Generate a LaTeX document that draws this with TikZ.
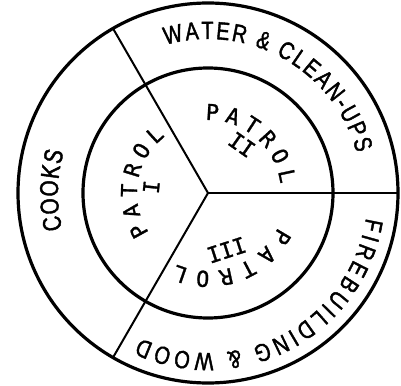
\documentclass[tikz,border=0pt]{standalone}
\usepackage{fontspec}
\newfontfamily\rimfont[FakeStretch=0.8, FakeBold=1.6]{Liberation Sans}
\newfontfamily\patfont[FakeBold=1.2]{DejaVu Sans Mono}
\usetikzlibrary{decorations.text}

\begin{document}
\begin{tikzpicture}[line join=round]
  \tikzset{
    ring/.style={draw=black, line width=3.2bp},
    spoke/.style={draw=black, line width=2bp},
    rimtext/.style={decorate, decoration={text along path, text align=fit to path}},
    numeral/.style={font=\patfont\fontsize{22}{22}\selectfont, inner sep=0pt}
  }
  \def\ro{190bp} \def\ri{125bp}
  \useasboundingbox (-208bp,-193bp) rectangle (193bp,193bp);

  % Rings
  \coordinate (c) at (0,0);
  \draw[ring] (c) circle[radius=\ro];
  \draw[ring] (c) circle[radius=\ri];

  % Spokes
  \coordinate (s1) at (0:\ro);
  \coordinate (s2) at (120:\ro);
  \coordinate (s3) at (240:\ro);
  \draw[spoke] (c) -- (s1);
  \draw[spoke] (c) -- (s2);
  \draw[spoke] (c) -- (s3);

  % Outer ring
  \path[rimtext, decoration={text={|\rimfont\fontsize{25}{25}\selectfont|WATER {\&} CLEAN-UPS}}]
    (106:154bp) arc[start angle=106, end angle=15, radius=154bp];
  \path[rimtext, decoration={text={|\rimfont\fontsize{25}{25}\selectfont|FIREBUILDING {\&} WOOD}}]
    (-9:160bp) arc[start angle=-9, end angle=-115, radius=160bp];
  \path[rimtext, decoration={text={|\rimfont\fontsize{26}{26}\selectfont|COOKS}}]
    (194:150bp) arc[start angle=194, end angle=164, radius=150bp];

  % Inner ring
  \path[rimtext, decoration={text={|\patfont\fontsize{22}{22}\selectfont|PATROL}}]
    (214:71bp) arc[start angle=214, end angle=127, radius=71bp];
  \path[rimtext, decoration={text={|\patfont\fontsize{22}{22}\selectfont|PATROL}}]
    (92:73bp) arc[start angle=92, end angle=7, radius=73bp];
  \path[rimtext, decoration={text={|\patfont\fontsize{22}{22}\selectfont|PATROL}}]
    (-26:78bp) arc[start angle=-26, end angle=-114, radius=78bp];

  \node[numeral, rotate=84] (p1) at (174:57bp) {I};
  \node[numeral, rotate=-35] (p2) at (55:59bp) {II};
  \node[numeral, rotate=-162] (p3) at (-72:60bp) {III};

\end{tikzpicture}
\end{document}
